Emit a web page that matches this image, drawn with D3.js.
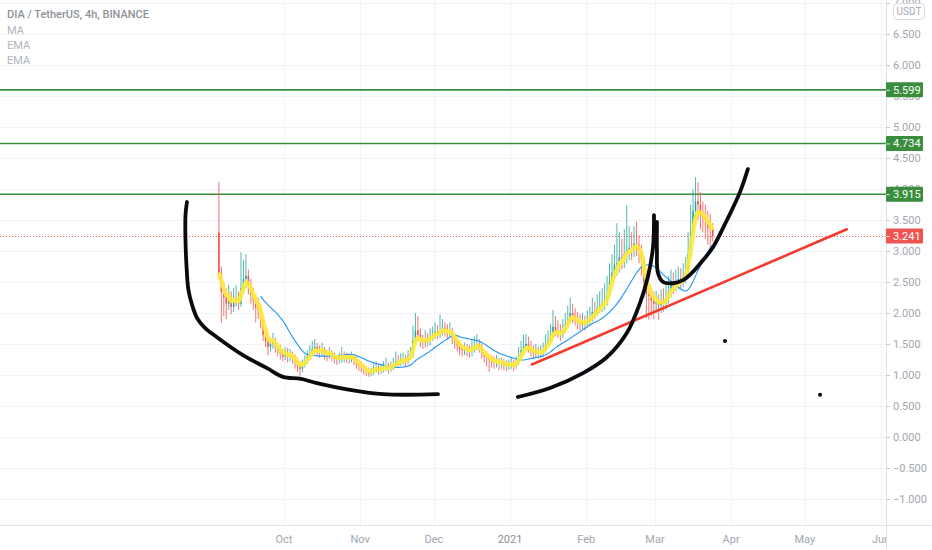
<!DOCTYPE html>
<html>
<head>
<meta charset="utf-8">
<script src="https://cdn.jsdelivr.net/npm/d3@7"></script>
<style>
  html, body { margin: 0; padding: 0; background: #fff; }
  svg { display: block; font-family: Roboto, "Noto Sans", sans-serif; }
</style>
</head>
<body>
<svg id="chart" width="932" height="550"></svg>
<script>
// ------------------------------------------------------------
// DIA / TetherUS, 4h, BINANCE  (candles shown per day)
// ------------------------------------------------------------

const START_DATE = '2020-09-04';
const FIRST_OPEN = 3.30;

const CLOSE = [
  2.65,2.35,2.25,2.15,2.25,2.10,2.20,2.25,2.15,2.40,
  2.55,2.60,2.45,2.30,2.20,2.10,2.05,1.90,1.65,1.55,
  1.45,1.50,1.55,1.45,1.40,1.35,1.30,1.35,1.30,1.32,
  1.28,1.22,1.15,1.10,1.18,1.22,1.30,1.35,1.42,1.45,
  1.40,1.38,1.42,1.33,1.32,1.36,1.30,1.26,1.25,1.28,
  1.30,1.28,1.29,1.27,1.30,1.25,1.18,1.15,1.12,1.08,
  1.05,1.02,1.05,1.10,1.12,1.08,1.10,1.12,1.15,1.10,
  1.14,1.18,1.22,1.20,1.25,1.26,1.22,1.30,1.32,1.55,
  1.72,1.65,1.55,1.52,1.58,1.55,1.62,1.65,1.70,1.66,
  1.72,1.76,1.72,1.68,1.70,1.62,1.55,1.48,1.42,1.40,
  1.42,1.40,1.38,1.42,1.48,1.50,1.45,1.35,1.30,1.28,
  1.25,1.22,1.20,1.22,1.18,1.20,1.17,1.15,1.16,1.18,
  1.14,1.20,1.30,1.40,1.46,1.50,1.45,1.40,1.36,1.38,
  1.34,1.36,1.40,1.50,1.55,1.62,1.78,1.72,1.70,1.65,
  1.72,1.82,1.90,2.00,1.95,1.90,1.85,1.82,1.86,1.82,
  1.88,1.92,2.02,2.00,2.08,2.12,2.15,2.20,2.30,2.50,
  2.65,2.78,2.80,2.90,2.88,2.95,3.02,3.05,3.02,3.12,
  3.10,3.00,2.85,2.50,2.30,2.28,2.20,2.15,2.18,2.12,
  2.18,2.15,2.25,2.35,2.45,2.42,2.50,2.55,2.52,2.58,
  2.65,2.95,3.30,3.65,3.80,3.75,3.62,3.55,3.50,3.38,
  3.35,3.241
];

const HIGH = [
  4.11,2.75,2.50,2.40,2.45,2.35,2.40,2.45,2.35,2.98,
  2.85,2.95,2.70,2.55,2.40,2.30,2.25,2.15,1.95,1.72,
  1.62,1.60,1.68,1.60,1.52,1.48,1.42,1.45,1.44,1.42,
  1.38,1.33,1.28,1.22,1.25,1.32,1.40,1.48,1.55,1.58,
  1.52,1.48,1.52,1.45,1.40,1.45,1.40,1.36,1.32,1.36,
  1.45,1.38,1.36,1.35,1.38,1.34,1.30,1.24,1.22,1.18,
  1.15,1.12,1.12,1.20,1.22,1.18,1.18,1.22,1.28,1.20,
  1.22,1.28,1.38,1.32,1.35,1.36,1.32,1.40,1.45,1.80,
  2.00,1.95,1.75,1.65,1.72,1.68,1.75,1.78,1.85,1.80,
  1.97,1.90,1.85,1.82,1.85,1.76,1.68,1.62,1.55,1.50,
  1.52,1.50,1.48,1.58,1.62,1.66,1.58,1.50,1.40,1.38,
  1.34,1.32,1.30,1.32,1.28,1.28,1.26,1.24,1.25,1.28,
  1.24,1.30,1.45,1.55,1.65,1.66,1.62,1.55,1.48,1.50,
  1.46,1.48,1.52,1.66,1.72,1.82,2.05,1.95,1.88,1.82,
  1.90,2.00,2.12,2.25,2.15,2.08,2.02,1.98,2.00,1.96,
  2.04,2.10,2.25,2.18,2.30,2.35,2.40,2.48,2.60,2.80,
  2.95,3.10,3.45,3.30,3.20,3.35,3.74,3.40,3.30,3.40,
  3.47,3.25,3.10,2.90,2.60,2.45,2.40,2.35,2.35,2.30,
  2.38,2.40,2.45,2.60,2.70,2.65,2.70,2.75,2.72,2.80,
  2.90,3.30,3.75,4.00,4.19,4.11,3.95,3.80,3.75,3.65,
  3.60,3.45
];

const LOW = [
  2.55,1.84,1.95,1.90,2.05,1.98,2.02,2.10,2.05,2.10,
  2.30,2.40,2.30,2.15,2.05,1.85,1.90,1.75,1.55,1.45,
  1.32,1.38,1.42,1.36,1.30,1.25,1.22,1.24,1.20,1.22,
  1.18,1.10,1.05,0.99,1.04,1.12,1.18,1.25,1.30,1.35,
  1.32,1.28,1.30,1.25,1.22,1.26,1.22,1.18,1.16,1.18,
  1.20,1.20,1.20,1.18,1.20,1.16,1.10,1.06,1.04,1.00,
  0.98,0.97,0.98,1.00,1.04,1.00,1.02,1.04,1.06,1.02,
  1.05,1.08,1.12,1.12,1.15,1.16,1.14,1.18,1.24,1.28,
  1.50,1.55,1.45,1.42,1.45,1.46,1.48,1.55,1.58,1.58,
  1.60,1.64,1.62,1.58,1.60,1.50,1.42,1.38,1.32,1.30,
  1.32,1.30,1.28,1.30,1.36,1.40,1.36,1.26,1.20,1.14,
  1.05,1.12,1.10,1.12,1.08,1.10,1.08,1.06,1.08,1.10,
  1.06,1.10,1.16,1.26,1.34,1.38,1.36,1.30,1.28,1.28,
  1.26,1.28,1.30,1.36,1.44,1.50,1.58,1.62,1.60,1.55,
  1.60,1.68,1.76,1.85,1.84,1.80,1.74,1.72,1.74,1.72,
  1.76,1.80,1.86,1.90,1.95,2.00,2.02,2.05,2.12,2.25,
  2.40,2.55,2.60,2.65,2.70,2.72,2.80,2.85,2.85,2.90,
  2.92,2.80,2.60,2.25,1.92,1.89,1.95,1.90,2.00,1.89,
  2.00,2.02,2.05,2.15,2.25,2.30,2.35,2.38,2.40,2.42,
  2.48,2.60,2.90,3.20,3.45,3.50,3.35,3.30,3.20,3.10,
  3.05,3.15
];

// horizontal levels drawn on the chart and the last price
const LEVELS = [5.599, 4.734, 3.915];
const LAST_PRICE = 3.241;

// right price scale and bottom time scale
const PRICE_TICKS = [-1, -0.5, 0, 0.5, 1, 1.5, 2, 2.5, 3, 3.5, 4, 4.5, 5, 5.5, 6, 6.5, 7];
const MONTH_TICKS = ['2020-10-01','2020-11-01','2020-12-01','2021-01-01','2021-02-01',
                     '2021-03-01','2021-04-01','2021-05-01','2021-06-01'];
const MONTH_LABELS = ['Oct','Nov','Dec','2021','Feb','Mar','Apr','May','Jun'];

// hand drawings: [days after 2020-10-01, price]
const DRAW_REF = '2020-10-01';
const TREND_LINE = [[100.9, 1.17], [229.1, 3.35]];
const BOWL_LEFT = [
  [-39.5,3.79],[-40.1,3.58],[-40.1,3.18],[-39.7,2.77],[-38.9,2.37],[-37.4,2.13],
  [-35.4,1.92],[-32.2,1.76],[-27.3,1.61],[-16.7,1.32],[-6.9,1.11],[-0.4,0.97],
  [6.5,0.94],[13.4,0.87],[26.9,0.76],[40.3,0.69],[62.7,0.69]
];
const BOWL_RIGHT = [
  [95.2,0.645],[108.3,0.79],[121.7,1.03],[131.5,1.29],[139.6,1.68],[144.9,2.16],
  [148.1,2.58],[150.2,3.06],[150.6,3.58]
];
const HANDLE = [
  [151.8,3.47],[151.8,3.02],[152.2,2.65],[154.3,2.50],[158.3,2.48],[162.4,2.53],
  [166.1,2.65],[170.5,2.85],[174.6,3.06],[180.3,3.50],[185.6,3.95],[188.8,4.32]
];
const DOTS = [[179.5, 1.55], [218.2, 0.68]];

const EMA_ALPHA = 0.45;   // yellow EMA
const MA_WINDOW = 18;     // blue MA

// ------------------------------------------------------------
const W = 932, H = 550;
const PLOT_R = 886, PLOT_B = 525;
const DAY = 86400000;

const svg = d3.select('#chart');
const parse = d3.utcParse('%Y-%m-%d');
const start = parse(START_DATE);
const ref = parse(DRAW_REF);

const x = d3.scaleUtc()
  .domain([parse(MONTH_TICKS[0]), parse(MONTH_TICKS[MONTH_TICKS.length - 1])])
  .range([284, 881]);
const y = d3.scaleLinear().domain([0, 5]).range([437, 127]);

const candles = CLOSE.map((c, i) => ({
  date: new Date(start.getTime() + i * DAY + DAY / 2),
  open: i === 0 ? FIRST_OPEN : CLOSE[i - 1],
  high: HIGH[i], low: LOW[i], close: c
}));

// indicators
const ema = [];
candles.forEach((d, i) => {
  ema.push(i === 0 ? d.close : ema[i - 1] + EMA_ALPHA * (d.close - ema[i - 1]));
});
const ma = candles.map((d, i) => i < MA_WINDOW - 1 ? null
  : d3.mean(CLOSE.slice(i - MA_WINDOW + 1, i + 1)));

const toPoint = p => [x(new Date(ref.getTime() + p[0] * DAY)), y(p[1])];

const defs = svg.append('defs');
defs.append('clipPath').attr('id', 'plotClip')
  .append('rect').attr('width', PLOT_R).attr('height', PLOT_B);
defs.append('clipPath').attr('id', 'timeClip')
  .append('rect').attr('x', 0).attr('y', PLOT_B).attr('width', PLOT_R).attr('height', H - PLOT_B);

svg.append('rect').attr('width', W).attr('height', H).attr('fill', '#fff');

const plot = svg.append('g').attr('clip-path', 'url(#plotClip)');

// grid
plot.append('g').selectAll('line').data(PRICE_TICKS).join('line')
  .attr('x1', 0).attr('x2', PLOT_R)
  .attr('y1', d => Math.round(y(d)) + 0.5).attr('y2', d => Math.round(y(d)) + 0.5)
  .attr('stroke', '#f0f3fa');
plot.append('g').selectAll('line').data(MONTH_TICKS).join('line')
  .attr('x1', d => Math.round(x(parse(d))) + 0.5).attr('x2', d => Math.round(x(parse(d))) + 0.5)
  .attr('y1', 0).attr('y2', PLOT_B)
  .attr('stroke', '#f0f3fa');

// horizontal levels
plot.append('g').selectAll('line').data(LEVELS).join('line')
  .attr('x1', 0).attr('x2', PLOT_R)
  .attr('y1', d => y(d)).attr('y2', d => y(d))
  .attr('stroke', '#388e3c').attr('stroke-width', 1.7);

// last price line
plot.append('line')
  .attr('x1', 0).attr('x2', PLOT_R)
  .attr('y1', Math.round(y(LAST_PRICE)) + 0.5).attr('y2', Math.round(y(LAST_PRICE)) + 0.5)
  .attr('stroke', '#ef5350').attr('stroke-width', 1).attr('stroke-dasharray', '1,2');

// candles
const step = x(new Date(start.getTime() + DAY)) - x(start);
const bodyW = Math.max(1, step * 0.62);
const cg = plot.append('g').selectAll('g').data(candles).join('g')
  .attr('stroke', d => d.close >= d.open ? '#26a69a' : '#ef5350')
  .attr('fill', d => d.close >= d.open ? '#26a69a' : '#ef5350');
cg.append('line')
  .attr('x1', d => x(d.date)).attr('x2', d => x(d.date))
  .attr('y1', d => y(d.high)).attr('y2', d => y(d.low))
  .attr('stroke-width', 0.8);
cg.append('rect')
  .attr('stroke', 'none')
  .attr('x', d => x(d.date) - bodyW / 2).attr('width', bodyW)
  .attr('y', d => y(Math.max(d.open, d.close)))
  .attr('height', d => Math.max(0.8, Math.abs(y(d.open) - y(d.close))));

// MA (blue) and EMA (yellow)
const line = d3.line().defined(d => d[1] != null)
  .x(d => x(d[0])).y(d => y(d[1])).curve(d3.curveMonotoneX);
plot.append('path')
  .attr('d', line(candles.map((d, i) => [d.date, ma[i]])))
  .attr('fill', 'none').attr('stroke', '#2196f3').attr('stroke-width', 1.1);
plot.append('path')
  .attr('d', line(candles.map((d, i) => [d.date, ema[i]])))
  .attr('fill', 'none').attr('stroke', '#ffeb3b').attr('stroke-width', 4.5)
  .attr('stroke-opacity', 0.9).attr('stroke-linejoin', 'round');

// trend line
plot.append('line')
  .attr('x1', toPoint(TREND_LINE[0])[0]).attr('y1', toPoint(TREND_LINE[0])[1])
  .attr('x2', toPoint(TREND_LINE[1])[0]).attr('y2', toPoint(TREND_LINE[1])[1])
  .attr('stroke', '#f23b2e').attr('stroke-width', 2.6).attr('stroke-linecap', 'round');

// brush drawings
const brush = d3.line().curve(d3.curveCatmullRom.alpha(0.5));
[BOWL_LEFT, BOWL_RIGHT, HANDLE].forEach(pts => {
  plot.append('path')
    .attr('d', brush(pts.map(toPoint)))
    .attr('fill', 'none').attr('stroke', '#0b0b0f').attr('stroke-width', 3.8)
    .attr('stroke-linecap', 'round').attr('stroke-linejoin', 'round');
});
plot.append('g').selectAll('circle').data(DOTS).join('circle')
  .attr('cx', d => toPoint(d)[0]).attr('cy', d => toPoint(d)[1])
  .attr('r', 2).attr('fill', '#0b0b0f');

// frame
svg.append('line').attr('x1', PLOT_R + 0.5).attr('x2', PLOT_R + 0.5)
  .attr('y1', 0).attr('y2', H).attr('stroke', '#e0e3eb');
svg.append('line').attr('x1', 0).attr('x2', W)
  .attr('y1', PLOT_B + 0.5).attr('y2', PLOT_B + 0.5).attr('stroke', '#e0e3eb');

// price scale (labels partly hidden under the tags, as on the original)
const fmt = d3.format('.3f');
const yAxis = svg.append('g');
yAxis.selectAll('line').data(PRICE_TICKS).join('line')
  .attr('x1', PLOT_R).attr('x2', PLOT_R + 4)
  .attr('y1', d => Math.round(y(d)) + 0.5).attr('y2', d => Math.round(y(d)) + 0.5)
  .attr('stroke', '#c8cbd3');
yAxis.selectAll('text').data(PRICE_TICKS).join('text')
  .attr('x', 893).attr('y', d => y(d)).attr('dy', '0.35em')
  .attr('font-size', 11).attr('fill', '#a3a6af')
  .text(d => d < 0 ? '\u2212' + fmt(-d) : fmt(d));

// price labels for levels and last price
const tags = LEVELS.map(v => ({ v, c: '#388e3c' })).concat([{ v: LAST_PRICE, c: '#ef5350' }]);
const tag = svg.append('g').selectAll('g').data(tags).join('g')
  .attr('transform', d => `translate(${PLOT_R},${y(d.v)})`);
tag.append('rect').attr('x', 0).attr('y', -7.5).attr('width', 37).attr('height', 15)
  .attr('rx', 1).attr('fill', d => d.c);
tag.append('line').attr('x1', 0).attr('x2', 4).attr('y1', 0.5).attr('y2', 0.5)
  .attr('stroke', '#fff').attr('stroke-opacity', 0.8);
tag.append('text').attr('x', 7).attr('dy', '0.36em')
  .attr('font-size', 11).attr('fill', '#fff').text(d => fmt(d.v));

// currency box
svg.append('rect').attr('x', 893.5).attr('y', 3.5).attr('width', 31).attr('height', 16)
  .attr('rx', 4).attr('fill', '#fff').attr('stroke', '#d9dce3');
svg.append('text').attr('x', 909).attr('y', 15).attr('text-anchor', 'middle')
  .attr('font-size', 10).attr('fill', '#a3a6af').text('USDT');

// time scale
const xAxis = svg.append('g').attr('clip-path', 'url(#timeClip)');
xAxis.selectAll('text').data(MONTH_TICKS).join('text')
  .attr('x', d => x(parse(d))).attr('y', 543)
  .attr('text-anchor', 'middle').attr('font-size', 11)
  .attr('fill', (d, i) => MONTH_LABELS[i] === '2021' ? '#8e9199' : '#a3a6af')
  .text((d, i) => MONTH_LABELS[i]);

// legend
const legend = svg.append('g').attr('font-size', 11);
legend.append('text').attr('x', 7).attr('y', 18).attr('font-weight', 500)
  .attr('fill', '#8e9199').text('DIA / TetherUS, 4h, BINANCE');
['MA', 'EMA', 'EMA'].forEach((t, i) => {
  legend.append('text').attr('x', 7).attr('y', 34 + i * 15)
    .attr('fill', '#b2b5be').text(t);
});
</script>
</body>
</html>
